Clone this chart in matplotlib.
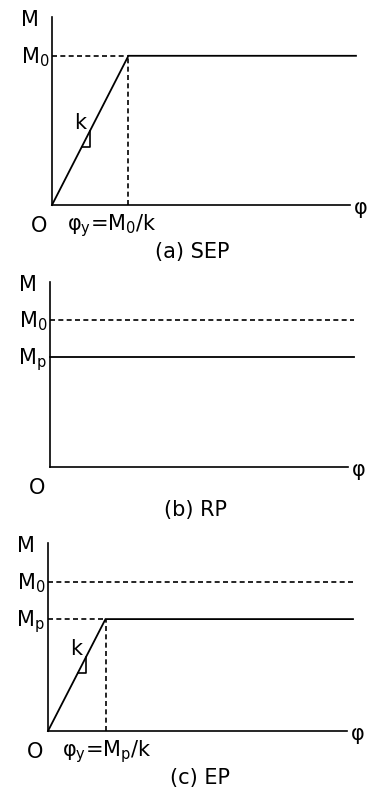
import numpy as np
import matplotlib
matplotlib.use('Agg')
import matplotlib.pyplot as plt

plt.rcParams['font.family'] = ['DejaVu Sans']
plt.rcParams['mathtext.default'] = 'regular'

# --- values of the schematic (normalised units) ---
M0 = 1.0          # fully plastic moment
Mp = 0.75         # plastic moment of RP / EP
k = 3.9           # elastic stiffness
phi_max = 1.0     # end of phi axis
phi_line_end = 1.02
M_top = 1.26      # end of M axis
tri = [0.10, 0.128]   # slope triangle on elastic branch

panels = ['(a) SEP', '(b) RP', '(c) EP']
yield_labels = [r'$\varphi_y$=M$_0$/k', None, r'$\varphi_y$=M$_p$/k']

W, H = 368, 792
fig = plt.figure(figsize=(W / 100, H / 100), dpi=100)

# axes boxes in image pixels: left, top-of-axis, right, origin-y
boxes = [(52, 17, 350, 205), (50, 282, 348, 467), (48, 543, 347, 731)]
captions_xy = [(192, 252), (196, 510), (200, 778)]

FS = 15
LW = 1.2
DASH = (0, (3, 2))


def make_ax(box):
    l, t, r, b = box
    ax = fig.add_axes([l / W, (H - b) / H, (r - l) / W, (b - t) / H])
    ax.set_xlim(0, phi_max)
    ax.set_ylim(0, M_top)
    for s in ['top', 'right']:
        ax.spines[s].set_visible(False)
    for s in ['left', 'bottom']:
        ax.spines[s].set_linewidth(LW)
    ax.set_xticks([])
    ax.set_yticks([])
    ax.patch.set_alpha(0)
    return ax


def common_labels(ax):
    ax.annotate('M', xy=(0, M_top), xytext=(-16, -2), textcoords='offset points',
                ha='center', va='center', fontsize=FS)
    ax.annotate('O', xy=(0, 0), xytext=(-9, -15), textcoords='offset points',
                ha='center', va='center', fontsize=FS)
    ax.annotate('φ', xy=(phi_max, 0), xytext=(3, -2), textcoords='offset points',
                ha='left', va='center', fontsize=FS)


def level_label(ax, y, txt):
    ax.annotate(txt, xy=(0, y), xytext=(-2, -5.5), textcoords='offset points',
                ha='right', va='baseline', fontsize=FS)


def elastic_branch(ax, Mlim):
    py = Mlim / k
    ax.plot([0, py, phi_line_end], [0, Mlim, Mlim], color='black', lw=LW + 0.1,
            clip_on=False, solid_joinstyle='miter')
    ax.plot([0, py], [Mlim, Mlim], color='black', lw=LW, ls=DASH)
    ax.plot([py, py], [0, Mlim], color='black', lw=LW, ls=DASH)
    t0, t1 = tri
    ax.plot([t0, t1, t1], [k * t0, k * t0, k * t1], color='black', lw=LW)
    ax.text(0.095, 0.55, 'k', ha='center', va='center', fontsize=FS)


# (a) SEP
ax = make_ax(boxes[0])
common_labels(ax)
level_label(ax, M0, 'M$_0$')
elastic_branch(ax, M0)
ax.annotate(yield_labels[0], xy=(0, 0), xytext=(11, -15), textcoords='offset points',
            ha='left', va='center', fontsize=FS)

# (b) RP
ax = make_ax(boxes[1])
common_labels(ax)
level_label(ax, M0, 'M$_0$')
level_label(ax, Mp, 'M$_p$')
ax.plot([0, phi_line_end], [M0, M0], color='black', lw=LW, ls=DASH, clip_on=False)
ax.plot([0, phi_line_end], [Mp, Mp], color='black', lw=LW + 0.1, clip_on=False)

# (c) EP
ax = make_ax(boxes[2])
common_labels(ax)
level_label(ax, M0, 'M$_0$')
level_label(ax, Mp, 'M$_p$')
ax.plot([0, phi_line_end], [M0, M0], color='black', lw=LW, ls=DASH, clip_on=False)
elastic_branch(ax, Mp)
ax.annotate(yield_labels[2], xy=(0, 0), xytext=(10, -15), textcoords='offset points',
            ha='left', va='center', fontsize=FS)

for cap, (cx, cy) in zip(panels, captions_xy):
    fig.text(cx / W, 1 - cy / H, cap, ha='center', va='center', fontsize=FS)

fig.savefig('out.png', dpi=100)
